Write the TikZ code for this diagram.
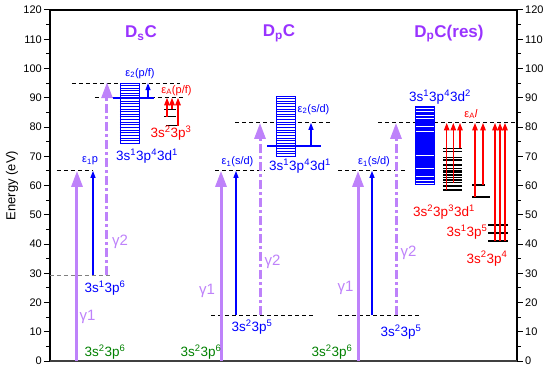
\documentclass[tikz,border=0pt]{standalone}
\usepackage{fontspec}
\setmainfont{Liberation Sans}
\usetikzlibrary{arrows.meta,positioning,calc}
\definecolor{titleviolet}{RGB}{153,51,255}
\definecolor{lavender}{RGB}{190,130,250}
\definecolor{levelblue}{RGB}{0,0,255}
\definecolor{augerred}{RGB}{255,0,0}
\definecolor{groundgreen}{RGB}{0,128,0}
\newcommand{\sps}[1]{\textsuperscript{#1}}
\newcommand{\sbs}[1]{\textsubscript{#1}}

\begin{document}
\begin{tikzpicture}[x=1pt,y=2.925pt,
    photon/.style={lavender,line width=3pt,-{Triangle[length=16pt,width=11pt]}},
    photontwo/.style={photon,dash pattern=on 9pt off 3pt on 3pt off 3pt},
    electron/.style={levelblue,line width=1.1pt,-{Triangle[length=7pt,width=5pt]}},
    auger/.style={augerred,line width=1.3pt,-{Triangle[length=7.5pt,width=5.5pt]}},
    thresh/.style={black,line width=0.9pt,dash pattern=on 4pt off 3pt},
    level/.style={black,line width=1.3pt},
    ticklab/.style={font=\fontsize{11}{13}\selectfont,inner sep=0pt},
    cfg/.style={font=\fontsize{13.5}{15}\selectfont,inner sep=0pt},
    eps/.style={font=\fontsize{11}{13}\selectfont,inner sep=0pt,levelblue},
    gam/.style={font=\fontsize{15}{17}\selectfont,lavender,inner sep=0pt},
    ttl/.style={font=\fontsize{17}{19}\selectfont\bfseries,titleviolet,inner sep=0pt}]
    \useasboundingbox (-50,-2.393) rectangle (500,123.42);

    \draw[line width=1.3pt] (0,0) rectangle (467,120);
    \draw[line width=2pt,black!75] (0,0) -- (467,0);
    \foreach \e in {0,10,...,120}{
        \draw[line width=1pt] (-6,\e) -- (0,\e) (467,\e) -- (473,\e);
        \node[ticklab,anchor=east] (yl\e) at (-8,\e) {\e};
        \node[ticklab,anchor=west] (yr\e) at (475,\e) {\e};
    }
    \foreach \e in {5,15,...,115}
        \draw[line width=1pt] (-3.5,\e) -- (0,\e) (467,\e) -- (470.5,\e);
    \node[rotate=90,font=\fontsize{13}{15}\selectfont] (ylab) at (-38,60) {Energy (eV)};

    % D_sC
    \node[ttl] (tds) at (91,112) {D\sbs{s}C};
    \draw[thresh,gray] (0,29.4) -- (62,29.4);
    \draw[thresh] (7,65) -- (43,65);
    \draw[thresh] (22,95) -- (130,95);
    \draw[thresh] (45,90) -- (133,90);
    \draw[levelblue,line width=0.8pt] (70,74.5) rectangle (89,95);
    \foreach \e in {75.4,76.3,...,94.5}
        \draw[levelblue,line width=0.6pt] (70,\e) -- (89,\e);
    \draw[levelblue,line width=2pt] (63,90) -- (104,90);
    \draw[level] (114,86) -- (126,86) (114,83.5) -- (126,83.5) (116,80.5) -- (128,80.5);
    \foreach \n/\x/\a/\b/\s in {sga/27/0/65/photon,sgb/57/29.4/95.3/photontwo,
            sea/43/29.4/65/electron,seb/98/90/95/electron,
            saa/117/83.5/90/auger,sab/122/86/90/auger,sac/128/80.5/90/auger}{
        \coordinate (\n0) at (\x,\a);
        \coordinate (\n1) at (\x,\b);
        \draw[\s] (\n0) -- (\n1);
    }
    \node[eps] (seal) at (40,68.5) {ε\sbs{1}p};
    \node[eps] (sebl) at (90,98.3) {ε\sbs{2}(p/f)};
    \node[eps,augerred] (sal) at (126.5,92.5) {ε\sbs{A}(p/f)};
    \node[gam] (sg1) at (37.5,15) {γ1};
    \node[gam] (sg2) at (70,40.7) {γ2};
    \node[cfg,groundgreen] (sgs) at (55,3) {3s\sps{2}3p\sps{6}};
    \node[cfg,levelblue] (sion) at (55,25) {3s\sps{1}3p\sps{6}};
    \node[cfg,levelblue] (sexc) at (97,70) {3s\sps{1}3p\sps{4}3d\sps{1}};
    \node[cfg,augerred] (sfin) at (121,78) {3s\sps{2}3p\sps{3}};

    % D_pC
    \node[ttl] (tdp) at (229,112) {D\sbs{p}C};
    \draw[thresh] (161,15.7) -- (265,15.7);
    \draw[thresh] (165,65) -- (215,65);
    \draw[thresh] (185,81.4) -- (280,81.4);
    \draw[levelblue,line width=0.8pt] (226,70) rectangle (245,90.6);
    \foreach \e in {70.9,71.8,...,90}
        \draw[levelblue,line width=0.6pt] (226,\e) -- (245,\e);
    \draw[levelblue,line width=2pt] (217,73.5) -- (271,73.5);
    \foreach \n/\x/\a/\b/\s in {pga/171/0/65/photon,pgb/210/15.7/81.4/photontwo,
            pea/186/15.7/65/electron,peb/261/73.5/81.4/electron}{
        \coordinate (\n0) at (\x,\a);
        \coordinate (\n1) at (\x,\b);
        \draw[\s] (\n0) -- (\n1);
    }
    \node[eps] (peal) at (187.5,68.2) {ε\sbs{1}(s/d)};
    \node[eps] (pebl) at (263.5,86) {ε\sbs{2}(s/d)};
    \node[gam] (pg1) at (157,24) {γ1};
    \node[gam] (pg2) at (222.5,34) {γ2};
    \node[cfg,groundgreen] (pgs) at (151,3) {3s\sps{2}3p\sps{6}};
    \node[cfg,levelblue] (pion) at (202,11.6) {3s\sps{2}3p\sps{5}};
    \node[cfg,levelblue] (pexc) at (250,66.5) {3s\sps{1}3p\sps{4}3d\sps{1}};

    % D_pC(res)
    \node[ttl] (tdr) at (399,112) {D\sbs{p}C(res)};
    \draw[thresh] (288,15.7) -- (370,15.7);
    \draw[thresh] (288,65) -- (357,65);
    \draw[thresh] (328,81.4) -- (467,81.4);
    \draw[levelblue,fill=levelblue,line width=0.6pt] (365,60.3) rectangle (384,87.2);
    \foreach \e in {86.4,85.2,84.1,83,80.1,78.7,70.4,65.9,63,61.9,60.9}
        \draw[white,line width=0.6pt] (365.5,\e) -- (383.5,\e);
    \foreach \e in {72.7,71.6,69.6,68.7,67,65.9,65,64.4,63.6,62.8,61.9,61,59.8,58.5}
        \draw[level] (393,\e) -- (412,\e);
    \draw[level] (422,60.2) -- (435,60.2) (422,56.1) -- (440,56.1);
    \draw[level] (438,46.5) -- (458,46.5) (438,43.8) -- (458,43.8) (438,41) -- (458,41);
    \foreach \n/\x/\a/\b/\s in {rga/308/0/65/photon,rgb/346/15.7/81.4/photontwo,
            rea/322/15.7/65/electron,
            raa/396.7/58.5/81.4/auger,rab/403.3/61/81.4/auger,rac/410/72.7/81.4/auger,
            rad/425/56.1/81.4/auger,rae/433/60.2/81.4/auger,
            raf/445/41/81.4/auger,rag/450/41/81.4/auger,rah/455/41/81.4/auger}{
        \coordinate (\n0) at (\x,\a);
        \coordinate (\n1) at (\x,\b);
        \draw[\s] (\n0) -- (\n1);
    }
    \node[eps] (real) at (324,68.2) {ε\sbs{1}(s/d)};
    \node[eps,augerred] (ral) at (421,84.5) {ε\sbs{A}\textit{l}};
    \node[gam] (rg1) at (295.5,25) {γ1};
    \node[gam] (rg2) at (358.5,37) {γ2};
    \node[cfg,groundgreen] (rgs) at (282,3) {3s\sps{2}3p\sps{6}};
    \node[cfg,levelblue] (rion) at (351,10) {3s\sps{2}3p\sps{5}};
    \node[cfg,levelblue] (rexc) at (390,90.3) {3s\sps{1}3p\sps{4}3d\sps{2}};
    \node[cfg,augerred] (rfa) at (394,51) {3s\sps{2}3p\sps{3}3d\sps{1}};
    \node[cfg,augerred] (rfb) at (417,44) {3s\sps{1}3p\sps{5}};
    \node[cfg,augerred] (rfc) at (437,35) {3s\sps{2}3p\sps{4}};
\end{tikzpicture}
\end{document}
